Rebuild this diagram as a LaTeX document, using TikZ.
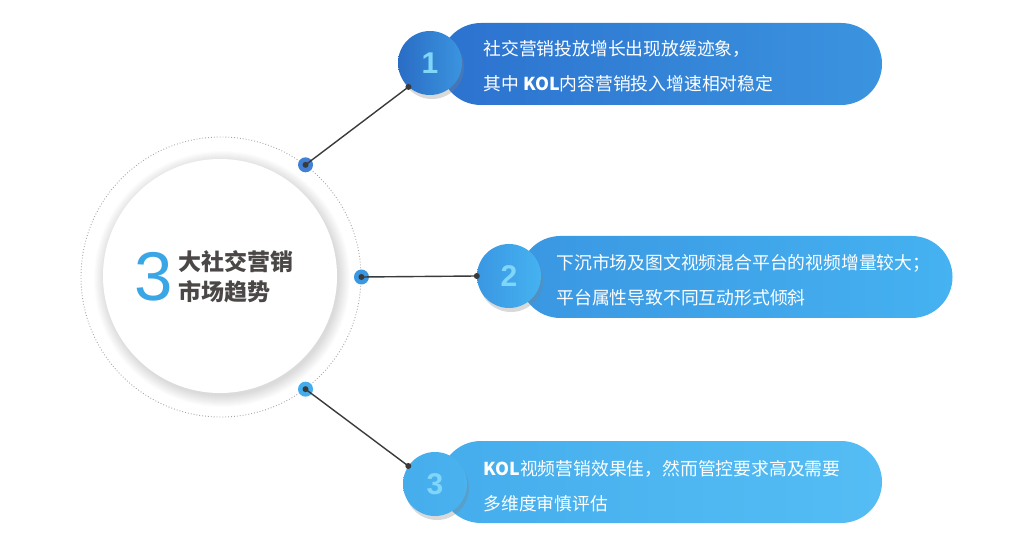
\documentclass[tikz,border=0pt]{standalone}
\usepackage{fontspec}
\setmainfont{Noto Sans CJK SC}
\newfontfamily\numfont{Liberation Sans}
\usetikzlibrary{shapes.misc,shadows,positioning}
\definecolor{hline}{HTML}{3A3A3A}
\definecolor{hgrey}{HTML}{4A4746}
\definecolor{hcyan}{HTML}{80D6F8}
\definecolor{hbigthree}{HTML}{3BA6E6}
\definecolor{hblueA}{HTML}{2C72CF}
\definecolor{hblueB}{HTML}{3B94DF}
\definecolor{hblueC}{HTML}{3A97E2}
\definecolor{hblueD}{HTML}{45B2F1}
\definecolor{hblueE}{HTML}{45ADEC}
\definecolor{hblueF}{HTML}{55BDF4}

\begin{document}
\begin{tikzpicture}[x=1pt, y=-1pt,
  pill/.style={rounded rectangle, minimum height=82pt, inner sep=0pt},
  badge/.style={circle, minimum size=64pt, inner sep=0pt,
    font=\numfont\bfseries\fontsize{30}{30}\selectfont, text=hcyan,
    drop shadow={shadow xshift=2pt, shadow yshift=-4pt, opacity=0.3}},
  info/.style={anchor=west, align=left, text=white, font=\fontsize{17.8}{35}\selectfont},
  pin/.style={circle, minimum size=15pt, inner sep=0pt},
  tip/.style={circle, fill=hline, minimum size=6pt, inner sep=0pt},
  link/.style={hline, line width=1.4pt},
]
\useasboundingbox (0,0) rectangle (1030,534);

% centre: dotted ring and white disc
\node[circle, draw=black!35, dotted, line width=0.9pt, minimum size=280pt, inner sep=0pt] (ring) at (221,277) {};
\foreach \r in {117,118,...,128}
  \fill[black, opacity=0.012] (222,279) circle (\r);
\node[circle, fill=white, minimum size=234pt, inner sep=0pt] (core) at (220,276) {};
\node[font=\numfont\fontsize{69}{69}\selectfont, text=hbigthree] (three) at (154,277) {3};
\node[anchor=west, align=left, text=hgrey, font=\bfseries\fontsize{23}{30}\selectfont] (title) at (175,277) {大社交营销\\市场趋势};

% pills
\node[pill, minimum width=442pt, left color=hblueA, right color=hblueB] (pill1) at (661,64) {};
\node[pill, minimum width=433pt, left color=hblueC, right color=hblueD] (pill2) at (736,277) {};
\node[pill, minimum width=442pt, left color=hblueE, right color=hblueF] (pill3) at (661,482) {};

% numbered badges
\node[badge, left color=hblueA!95!black, right color=hblueB] (b1) at (430,63) {1};
\node[badge, left color=hblueC, right color=hblueD] (b2) at (509,276) {2};
\node[badge, left color=hblueE, right color=hblueE!70!hblueF] (b3) at (435,484) {3};

\node[info] (t1) at (480,66) {社交营销投放增长出现放缓迹象，\\其中 \textbf{KOL}内容营销投入增速相对稳定};
\node[info] (t2) at (553,280) {下沉市场及图文视频混合平台的视频增量较大；\\平台属性导致不同互动形式倾斜};
\node[info] (t3) at (480,486) {\textbf{KOL}视频营销效果佳，然而管控要求高及需要\\多维度审慎评估};

% connectors
\node[pin, fill=hblueA!90!white] (p1) at (ring.53) {};
\node[pin, fill=hblueC] (p2) at (ring.0) {};
\node[pin, fill=hblueE] (p3) at (ring.-53) {};
\draw[link] (p1.center) -- (b1.228);
\draw[link] (p2.center) -- (b2.west);
\draw[link] (p3.center) -- (b3.146);
\foreach \n in {p1,p2,p3} \node[tip] (\n c) at (\n.center) {};
\node[tip] (e1) at (b1.228) {};
\node[tip] (e2) at (b2.west) {};
\node[tip] (e3) at (b3.146) {};
\end{tikzpicture}
\end{document}
